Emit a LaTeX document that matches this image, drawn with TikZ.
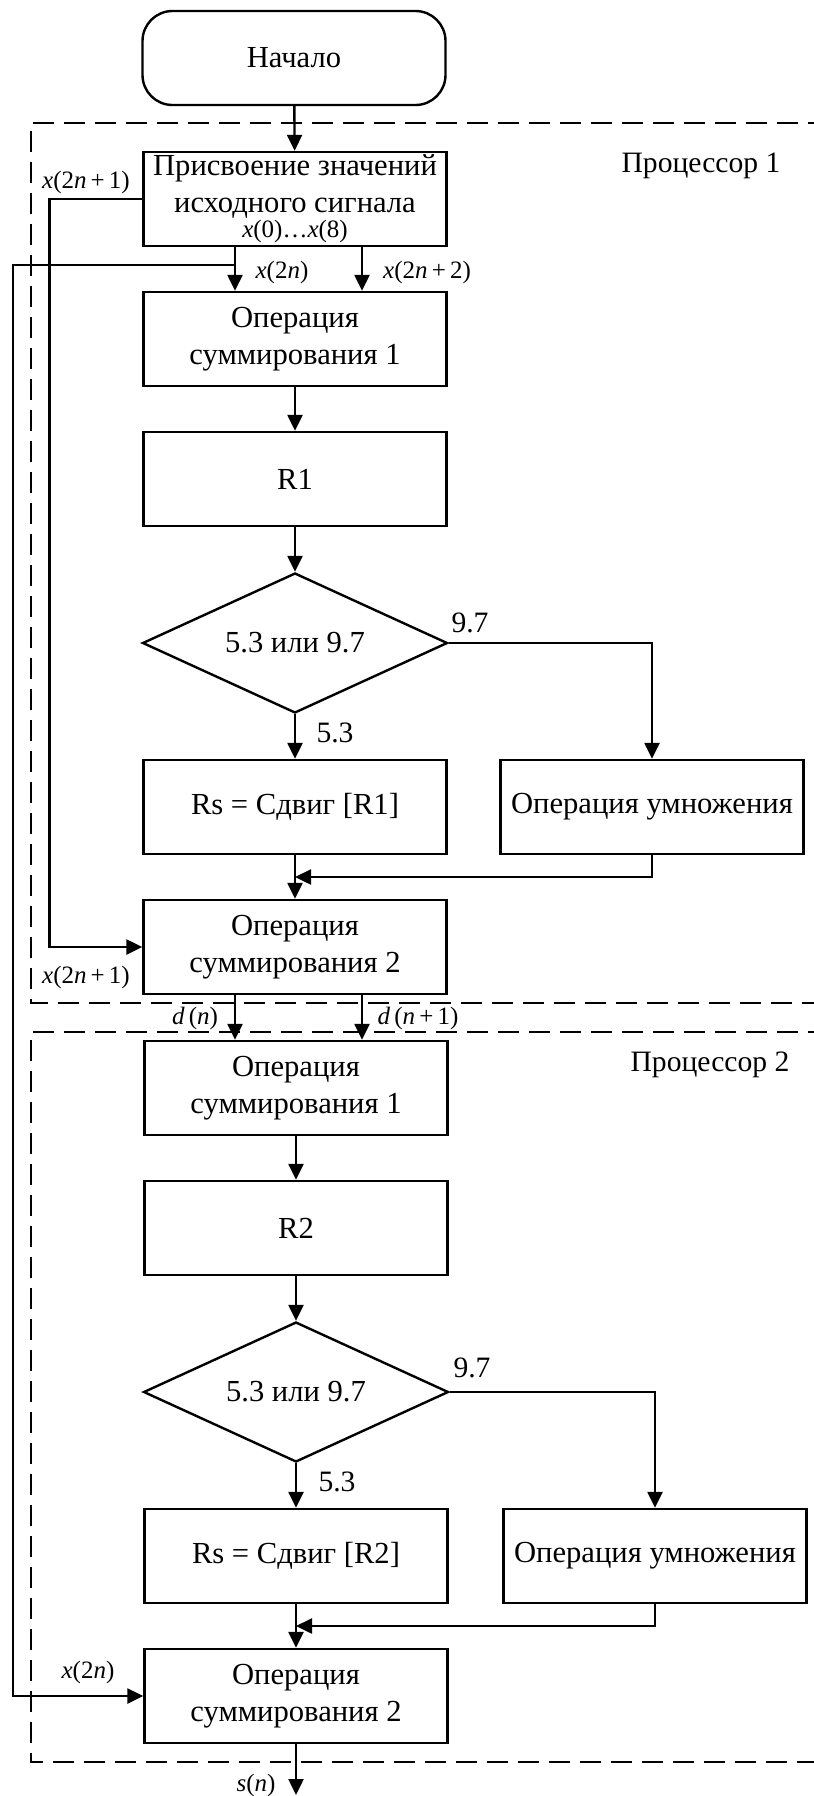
\documentclass[tikz,border=0pt]{standalone}
\usepackage{fontspec}
\setmainfont{Liberation Serif}
\usetikzlibrary{arrows.meta,positioning,calc,shapes.geometric}
\tikzset{
  block/.style={draw,line width=1.2pt,align=center,inner sep=1pt,
                font=\fontsize{15.3}{18.5}\selectfont,
                minimum width=151.5pt,minimum height=47pt},
  term/.style ={block,rounded corners=15pt},
  cond/.style ={draw,diamond,aspect=2.5,line width=1.2pt,inner sep=0pt,
                font=\fontsize{15.3}{18.5}\selectfont,
                minimum width=152.5pt,minimum height=70pt},
  proc/.style ={dash pattern=on 10.5pt off 5pt,line width=1.1pt},
  tag/.style  ={font=\fontsize{14.8}{16}\selectfont,inner sep=0pt},
  sig/.style  ={font=\fontsize{12.5}{14}\selectfont,inner sep=0pt},
  flow/.style ={-{Triangle[length=8pt,width=7.5pt]},line width=1.2pt},
}
\newcommand{\vi}[1]{\textit{#1}}

\begin{document}
\begin{tikzpicture}[x=0.5pt,y=-0.5pt]
  \useasboundingbox (0,0) rectangle (814,1796);
  % processor frames
  \draw[proc] (860,123) -- (31,123) -- (31,1003) -- (860,1003);
  \draw[proc] (860,1032) -- (31,1032) -- (31,1762) -- (860,1762);
  \node[tag] (p1) at (701,166) {Процессор 1};
  \node[tag] (p2) at (710,1065) {Процессор 2};

  % processor 1
  \node[term] (start) at (294,58) {Начало};
  \node[block] (init) at (295,199) {Присвоение значений\\исходного сигнала\\[-6pt]
        {\fontsize{12.5}{12}\selectfont\vi{x}(0)…\vi{x}(8)}};
  \node[block] (sum11) at (295,339) {Операция\\суммирования 1};
  \node[block] (r1) at (295,479) {R1};
  \node[cond] (dec1) at (295,643) {5.3 или 9.7};
  \node[block] (rs1) at (295,807) {Rs = Сдвиг [R1]};
  \node[block] (mul1) at (652,807) {Операция умножения};
  \node[block] (sum12) at (295,947) {Операция\\суммирования 2};

  % processor 2
  \node[block] (sum21) at (296,1088) {Операция\\суммирования 1};
  \node[block] (r2) at (296,1228) {R2};
  \node[cond] (dec2) at (296,1392) {5.3 или 9.7};
  \node[block] (rs2) at (296,1556) {Rs = Сдвиг [R2]};
  \node[block] (mul2) at (655,1556) {Операция умножения};
  \node[block] (sum22) at (296,1696) {Операция\\суммирования 2};

  \coordinate (xa) at (235,265);
  \coordinate (m1) at ($(rs1.south)!0.5!(sum12.north)$);
  \coordinate (m2) at ($(rs2.south)!0.5!(sum22.north)$);
  \coordinate (out) at (296,1795);

  % connectors
  \draw[flow] (start) -- (init);
  \draw[flow] ([xshift=-30pt]init.south) -- ([xshift=-30pt]sum11.north);
  \draw[flow] ([xshift=33.5pt]init.south) -- ([xshift=33.5pt]sum11.north);
  \draw[flow] (init.west) -- ++(-93,0) |- (sum12.west);
  \draw[flow] (xa) -- ++(-222,0) |- (sum22.west);
  \draw[flow] (sum11) -- (r1);
  \draw[flow] (r1) -- (dec1);
  \draw[flow] (dec1) -- (rs1);
  \draw[flow] (dec1.east) -| (mul1.north);
  \draw[flow] (rs1) -- (sum12);
  \draw[flow] (mul1.south) |- (m1);
  \draw[flow] ([xshift=-30pt]sum12.south) -- ([xshift=-30.5pt]sum21.north);
  \draw[flow] ([xshift=33.5pt]sum12.south) -- ([xshift=33pt]sum21.north);
  \draw[flow] (sum21) -- (r2);
  \draw[flow] (r2) -- (dec2);
  \draw[flow] (dec2) -- (rs2);
  \draw[flow] (dec2.east) -| (mul2.north);
  \draw[flow] (rs2) -- (sum22);
  \draw[flow] (mul2.south) |- (m2);
  \draw[flow] (sum22) -- (out);

  % signal labels
  \node[sig] (l1) at (282,272) {\vi{x}(2\vi{n})};
  \node[sig] (l2) at (427,272) {\vi{x}(2\vi{n}\,+\,2)};
  \node[sig] (l3) at (86,182) {\vi{x}(2\vi{n}\,+\,1)};
  \node[sig] (l4) at (86,977) {\vi{x}(2\vi{n}\,+\,1)};
  \node[sig] (l5) at (195,1018) {\vi{d}\,(\vi{n})};
  \node[sig] (l6) at (418,1018) {\vi{d}\,(\vi{n}\,+\,1)};
  \node[sig] (l7) at (88,1672) {\vi{x}(2\vi{n})};
  \node[sig] (l8) at (256,1785) {\vi{s}(\vi{n})};
  \node[tag] (c1) at (470,623) {9.7};
  \node[tag] (c2) at (335,733) {5.3};
  \node[tag] (c3) at (472,1368) {9.7};
  \node[tag] (c4) at (337,1482) {5.3};
\end{tikzpicture}
\end{document}
